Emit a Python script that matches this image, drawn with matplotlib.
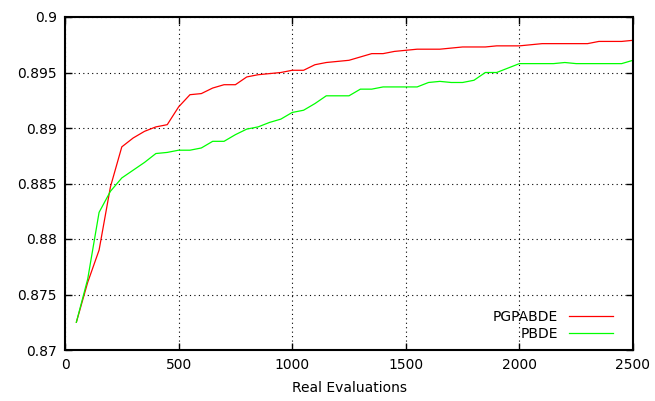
import numpy as np
import matplotlib
matplotlib.use("Agg")
import matplotlib.pyplot as plt

# - DATA - #
evals = list(range(50, 2501, 50))
pgpabde = [0.8725, 0.8761, 0.8790, 0.8847, 0.8883, 0.8891, 0.8897, 0.8901, 0.8903, 0.8919,
           0.8930, 0.8931, 0.8936, 0.8939, 0.8939, 0.8946, 0.8948, 0.8949, 0.8950, 0.8952,
           0.8952, 0.8957, 0.8959, 0.8960, 0.8961, 0.8964, 0.8967, 0.8967, 0.8969, 0.8970,
           0.8971, 0.8971, 0.8971, 0.8972, 0.8973, 0.8973, 0.8973, 0.8974, 0.8974, 0.8974,
           0.8975, 0.8976, 0.8976, 0.8976, 0.8976, 0.8976, 0.8978, 0.8978, 0.8978, 0.8979]
pbde = [0.8725, 0.8764, 0.8824, 0.8843, 0.8855, 0.8862, 0.8869, 0.8877, 0.8878, 0.8880,
        0.8880, 0.8882, 0.8888, 0.8888, 0.8894, 0.8899, 0.8901, 0.8905, 0.8908, 0.8914,
        0.8916, 0.8922, 0.8929, 0.8929, 0.8929, 0.8935, 0.8935, 0.8937, 0.8937, 0.8937,
        0.8937, 0.8941, 0.8942, 0.8941, 0.8941, 0.8943, 0.8950, 0.8950, 0.8954, 0.8958,
        0.8958, 0.8958, 0.8958, 0.8959, 0.8958, 0.8958, 0.8958, 0.8958, 0.8958, 0.8961]
xticks = [0, 500, 1000, 1500, 2000, 2500]
yticks = [0.87, 0.875, 0.88, 0.885, 0.89, 0.895, 0.9]
ytick_labels = ["0.87", "0.875", "0.88", "0.885", "0.89", "0.895", "0.9"]

# - PLOTTING - #
fig = plt.figure(figsize=(6.55, 4.01), dpi=100)
ax = fig.add_axes([65/655, 51/401, 568/655, 333/401])

ax.plot(evals, pgpabde, color="#ff0000", lw=0.9, label="PGPABDE")
ax.plot(evals, pbde, color="#00ff00", lw=0.9, label="PBDE")

ax.set_xlim(0, 2500)
ax.set_ylim(0.87, 0.9)
ax.set_xticks(xticks)
ax.set_yticks(yticks)
ax.set_yticklabels(ytick_labels)
ax.grid(True, color="black", linestyle=(0, (1, 3)), lw=0.8)
ax.tick_params(direction="in", top=True, right=True, length=5, width=1,
               labelsize=10, pad=6)
for s in ax.spines.values():
    s.set_linewidth(1.5)
ax.set_xlabel("Real Evaluations", fontsize=10, labelpad=6)

leg = ax.legend(loc="lower right", bbox_to_anchor=(0.9648, 0.027), frameon=False,
                markerfirst=False, fontsize=10, handlelength=3.2, handletextpad=0.75,
                labelspacing=0.25, borderaxespad=0, borderpad=0)

plt.savefig("out.png", dpi=100)
